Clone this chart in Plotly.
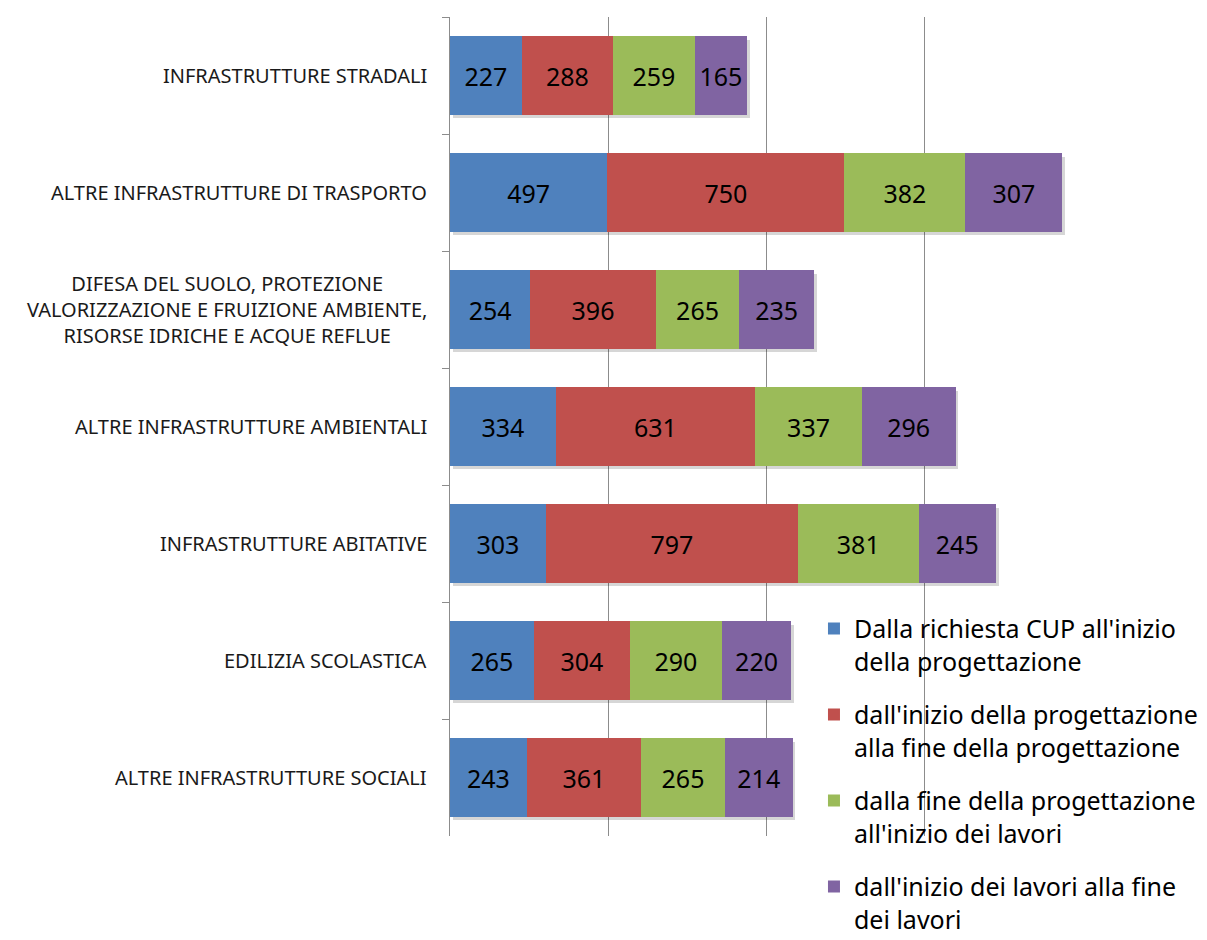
import plotly.graph_objects as go

categories = [
    "INFRASTRUTTURE STRADALI",
    "ALTRE INFRASTRUTTURE DI TRASPORTO",
    "DIFESA DEL SUOLO, PROTEZIONE<br>VALORIZZAZIONE E FRUIZIONE AMBIENTE,<br>RISORSE IDRICHE E ACQUE REFLUE",
    "ALTRE INFRASTRUTTURE AMBIENTALI",
    "INFRASTRUTTURE ABITATIVE",
    "EDILIZIA SCOLASTICA",
    "ALTRE INFRASTRUTTURE SOCIALI",
]

series_names = [
    "Dalla richiesta CUP all'inizio<br>della progettazione",
    "dall'inizio della progettazione<br>alla fine della progettazione",
    "dalla fine della progettazione<br>all'inizio dei lavori",
    "dall'inizio dei lavori alla fine<br>dei lavori",
]

cup_to_design = [227, 497, 254, 334, 303, 265, 243]
design_phase = [288, 750, 396, 631, 797, 304, 361]
design_to_works = [259, 382, 265, 337, 381, 290, 265]
works_phase = [165, 307, 235, 296, 245, 220, 214]

all_series = [cup_to_design, design_phase, design_to_works, works_phase]
colors = ["#4F81BD", "#C0504D", "#9BBB59", "#8064A2"]

FONT = "Noto Sans, Open Sans, sans-serif"
BAR_W = 0.667

fig = go.Figure()

# soft drop shadow behind each stacked bar (on the base y axis)
totals = [sum(v) for v in zip(*all_series)]
fig.add_trace(
    go.Bar(
        y=categories,
        x=totals,
        base=9,
        orientation="h",
        width=BAR_W,
        offset=-BAR_W / 2 + 0.03,
        marker=dict(color="rgba(0,0,0,0.16)", line=dict(width=0)),
        hoverinfo="skip",
        showlegend=False,
        yaxis="y",
    )
)

# the actual stacked bars on an overlaying axis so they sit above the shadow
for i, (name, vals) in enumerate(zip(series_names, all_series)):
    fig.add_trace(
        go.Bar(
            y=categories,
            x=vals,
            name=name,
            orientation="h",
            width=BAR_W,
            marker=dict(color=colors[i], line=dict(width=0)),
            text=vals,
            textposition="inside",
            insidetextanchor="middle",
            textfont=dict(family=FONT, size=25, color="black"),
            legendgroup=f"g{i}",
            yaxis="y2",
        )
    )

yrange = [len(categories) - 0.5, -0.5]

# the page body adds an 8px offset, so the figure is 8px smaller and margins shifted
fig.update_layout(
    barmode="stack",
    width=1199,
    height=932,
    margin=dict(l=442, r=124, t=9, b=104, autoexpand=False),
    paper_bgcolor="white",
    plot_bgcolor="white",
    font=dict(family=FONT, color="black"),
    xaxis=dict(
        range=[0, 2001],
        dtick=500,
        showgrid=True,
        gridcolor="#8c8c8c",
        gridwidth=1,
        zeroline=False,
        showline=False,
        showticklabels=False,
        ticks="",
    ),
    yaxis=dict(
        type="category",
        categoryarray=categories,
        range=yrange,
        showgrid=False,
        showline=True,
        linecolor="#8c8c8c",
        linewidth=1,
        ticks="outside",
        tickson="boundaries",
        ticklen=7,
        tickcolor="#8c8c8c",
        showticklabels=False,
    ),
    yaxis2=dict(
        type="category",
        categoryarray=categories,
        range=yrange,
        overlaying="y",
        showgrid=False,
        showline=False,
        showticklabels=False,
        ticks="",
    ),
    legend=dict(
        x=0.575,
        y=0.281,
        xanchor="left",
        yanchor="top",
        bgcolor="rgba(0,0,0,0)",
        font=dict(family=FONT, size=25, color="black"),
        traceorder="grouped",
        tracegroupgap=18,
        valign="top",
    ),
    showlegend=True,
)

# category labels: centred multi-line text, right-aligned to the axis
for cat in categories:
    fig.add_annotation(
        text=cat,
        xref="paper",
        x=0,
        xanchor="right",
        xshift=-21,
        yref="y",
        y=cat,
        yanchor="middle",
        align="center",
        showarrow=False,
        font=dict(family=FONT, size=20, color="#1a1a1a"),
    )

fig.write_html("out.html")
